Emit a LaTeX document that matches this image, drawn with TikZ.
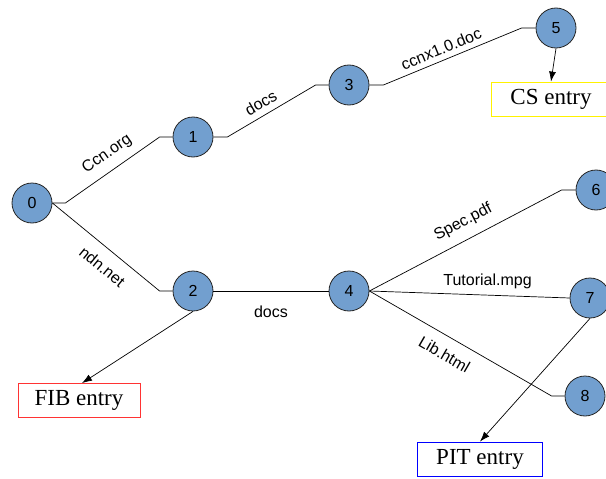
\documentclass[tikz,border=0pt]{standalone}
\usepackage{fontspec}
\setmainfont{Liberation Serif}
\setsansfont{Liberation Sans}
\usetikzlibrary{arrows.meta}
\definecolor{nodeblue}{HTML}{729FCF}
\tikzset{vertex/.style = {shape=circle,draw=black!85,fill=nodeblue,line width=0.8pt,minimum size=40pt,inner sep=0pt,font=\sffamily\fontsize{16}{18}\selectfont}}
\tikzset{entry/.style = {draw,line width=0.8pt,minimum height=34pt,inner sep=0pt,font=\fontsize{23}{25}\selectfont}}
\tikzset{edge/.style = {-{Latex[length=10pt,width=7pt]},line width=0.7pt}}
\tikzset{lbl/.style = {font=\sffamily\fontsize{16}{18}\selectfont}}

\begin{document}
\begin{tikzpicture}[x=1pt,y=-1pt,line width=0.7pt]
\useasboundingbox (0,0) rectangle (606,479);
% vertices
\node[vertex] (0) at (32,203) {0};
\node[vertex] (1) at (193,137) {1};
\node[vertex] (2) at (193,291) {2};
\node[vertex] (3) at (349,85) {3};
\node[vertex] (4) at (349,291) {4};
\node[vertex] (5) at (556,28) {5};
\node[vertex] (6) at (596,190) {6};
\node[vertex] (7) at (590,298) {7};
\node[vertex] (8) at (585,396) {8};
% tables
\node[entry,draw=yellow,minimum width=120pt] (cs) at (551,99) {CS entry};
\node[entry,draw=red!80,minimum width=122pt] (fib) at (79,400.5) {FIB entry};
\node[entry,draw=blue,minimum width=125pt] (pit) at (480,459) {PIT entry};
%edges
\draw[-] (0.east) -- ++(13,0) -- ([xshift=-13pt]1.west) node[lbl,pos=0.54,above=5pt,sloped]{Ccn.org} -- (1.west);
\draw[-] (0.east) -- ([xshift=-13pt]2.west) node[lbl,pos=0.57,below=8pt,sloped]{ndn.net} -- (2.west);
\draw[-] (1.east) -- ++(14,0) -- ([xshift=-13pt]3.west) node[lbl,pos=0.45,above=3pt,sloped]{docs} -- (3.west);
\draw[-] (3.east) -- ++(14,0) -- ([xshift=-14pt]5.west) node[lbl,pos=0.45,above=2pt,sloped]{ccnx1.0.doc} -- (5.west);
\draw[-] (2) -- (4) node[lbl,midway,below=11pt]{docs};
\draw[-] (4.east) -- ([xshift=-14pt]6.west) node[lbl,pos=0.53,above=6pt,sloped]{Spec.pdf} -- (6.west);
\draw[-] (4.east) -- (7.west) node[lbl,pos=0.59,above=3pt]{Tutorial.mpg};
\draw[-] (4.east) -- ([xshift=-13pt]8.west) node[lbl,pos=0.46,below=8pt,sloped]{Lib.html} -- (8.west);
% lookups
\draw[edge] (5.south) -- (cs.north);
\draw[edge] (2.south) -- ([xshift=3pt]fib.north);
\draw[edge] (7.south) -- (pit.north);
\end{tikzpicture}
\end{document}
